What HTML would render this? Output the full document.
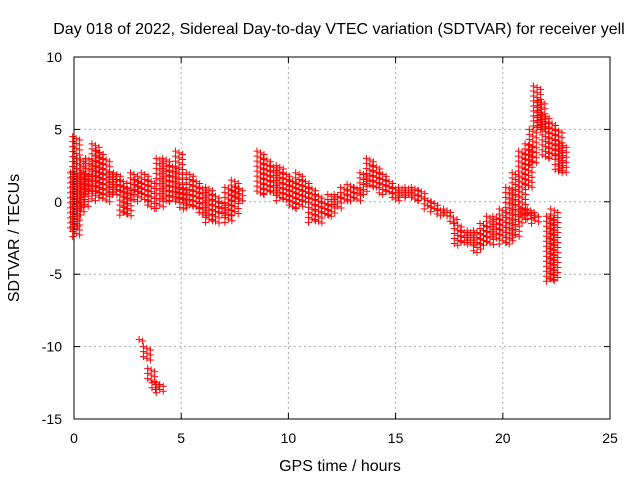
<!DOCTYPE html>
<html><head><meta charset="utf-8"><style>
body{margin:0;background:#fff;font-family:"Liberation Sans",sans-serif}
svg text{font-family:"Liberation Sans",sans-serif;font-size:14px;fill:#000}
svg text.big{font-size:16px}
</style></head><body>
<svg id="chart" width="640" height="480" xmlns="http://www.w3.org/2000/svg">
<rect width="640" height="480" fill="#fff"/>
<text class="big" x="339" y="34" text-anchor="middle">Day 018 of 2022, Sidereal Day-to-day VTEC variation (SDTVAR) for receiver yell</text>
<text class="big" x="340" y="471" text-anchor="middle">GPS time / hours</text>
<text class="big" transform="translate(19,238) rotate(-90)" text-anchor="middle">SDTVAR / TECUs</text>
<g id="grid"></g><g id="marks"></g>
<rect x="74" y="57" width="536" height="362" fill="none" stroke="#000"/>
</svg>
<script>
const xTicks=[0,5,10,15,20,25];
const yTicks=[10,5,0,-5,-10,-15];
const times=[0,0.1,0.3,0.5,0.7,1.0,1.2,1.5,1.8,2.0,2.3,2.5,2.8,3.0,3.3,3.6,4.0,4.3,4.6,4.9,5.1,5.4,5.7,6.0,6.3,6.6,6.9,7.2,7.5,7.7,
8.7,9.0,9.3,9.6,9.9,10.2,10.5,10.8,11.1,11.4,11.7,12.0,12.3,12.6,12.9,13.2,13.5,13.8,14.1,14.4,14.7,15.0,15.3,15.6,15.9,16.2,16.5,16.8,17.1,17.4,17.7,17.9,18.2,18.5,18.8,19.1,19.4,19.7,20.0,20.3,20.6,20.9,21.2,21.4,21.6,21.8,22.0,22.3,22.6,22.8,
21.0,21.3,21.5,22.2,22.4,
3.2,3.4,3.6,3.8,4.0];
const lows=[-2,-2.5,-1,-0.5,0.5,0,0.5,0,0.5,0.5,-1,-1,0,0.5,0,-0.5,-0.5,0,0,0,-0.5,-0.5,-0.5,-1,-1.5,-1.5,-1,-1.5,-1,0,
0.5,0.5,0.5,0,0,-0.5,-0.5,0,-1.5,-1.5,-1,-1,-0.5,0,0,0,0.5,1,1,0.5,0.5,0,0.3,0.3,0,0,-0.5,-0.8,-1,-1,-1.5,-3,-3,-3,-3.5,-3,-3,-2.5,-3,-3,-2.5,-1.5,1,2.5,5,5,3,3,2,2,
-1,-1.2,-1.5,-5.5,-5.5,
-9.7,-11,-12.5,-13,-13.2];
const highs=[2,4.5,3,2,3,4,3.5,3,2,2,1.5,1,2,1.5,2,1.5,3,3,2.5,3.5,1,2,1.5,1,1,0.5,0,1,1.5,1,
3.5,3,2.5,2.5,2,1.5,2,1.5,1,0.5,0,0.5,0.5,1,1.2,1,2,3,2.5,2,1.5,1,1,1,1,0.8,0.2,0,-0.5,-0.5,-1,-1.5,-2,-2,-2,-1.5,-1,-1,-0.5,1,2,3.5,4,5,8,7,6,5.5,5,4,
-0.5,-0.5,-0.8,-1,-0.5,
-9.5,-10,-11.5,-12.5,-12.5];
const X=t=>74+t*536/25, Y=v=>57+(10-v)*362/25;
const NS='http://www.w3.org/2000/svg';
const grid=document.getElementById('grid'), marks=document.getElementById('marks'), svg=document.getElementById('chart');
function mk(tag,at,parent){const e=document.createElementNS(NS,tag);for(const k in at)e.setAttribute(k,at[k]);parent.appendChild(e);return e;}
xTicks.forEach(t=>{
 if(t>0&&t<25){const g=mk('line',{x1:X(t),x2:X(t),y1:57,y2:419,stroke:'#aaa','stroke-dasharray':'2,3'},grid);
 
 }
 mk('line',{x1:X(t),x2:X(t),y1:419,y2:413,stroke:'#000'},grid);
 mk('line',{x1:X(t),x2:X(t),y1:57,y2:63,stroke:'#000'},grid);
 const l=mk('text',{x:X(t),y:443,'text-anchor':'middle'},svg);l.textContent=t;
 
 
});
yTicks.forEach(v=>{
 if(v>-15&&v<10){const g=mk('line',{x1:74,x2:610,y1:Y(v),y2:Y(v),stroke:'#aaa','stroke-dasharray':'2,3'},grid);
 
 }
 mk('line',{x1:74,x2:80,y1:Y(v),y2:Y(v),stroke:'#000'},grid);
 mk('line',{x1:604,x2:610,y1:Y(v),y2:Y(v),stroke:'#000'},grid);
 const l=mk('text',{x:62,y:Y(v)+5,'text-anchor':'end'},svg);l.textContent=v;
 
 
});
let d='';
times.forEach((t,i)=>{
 const x=X(t),y1=Y(highs[i]),y2=Y(lows[i]);
 for(let k=-1;k<=1;k++){
  const dx=k*3.5, off=(k+1)*1.7;
  for(let y=y1+off;y<=y2+0.1;y+=5){d+=`M${x+dx-3.5},${y}h7M${x+dx},${y-3.5}v7`;}
 }
});
const p=mk('path',{d:d,stroke:'#f00','stroke-width':1,fill:'none'},marks);


</script>
</body></html>
